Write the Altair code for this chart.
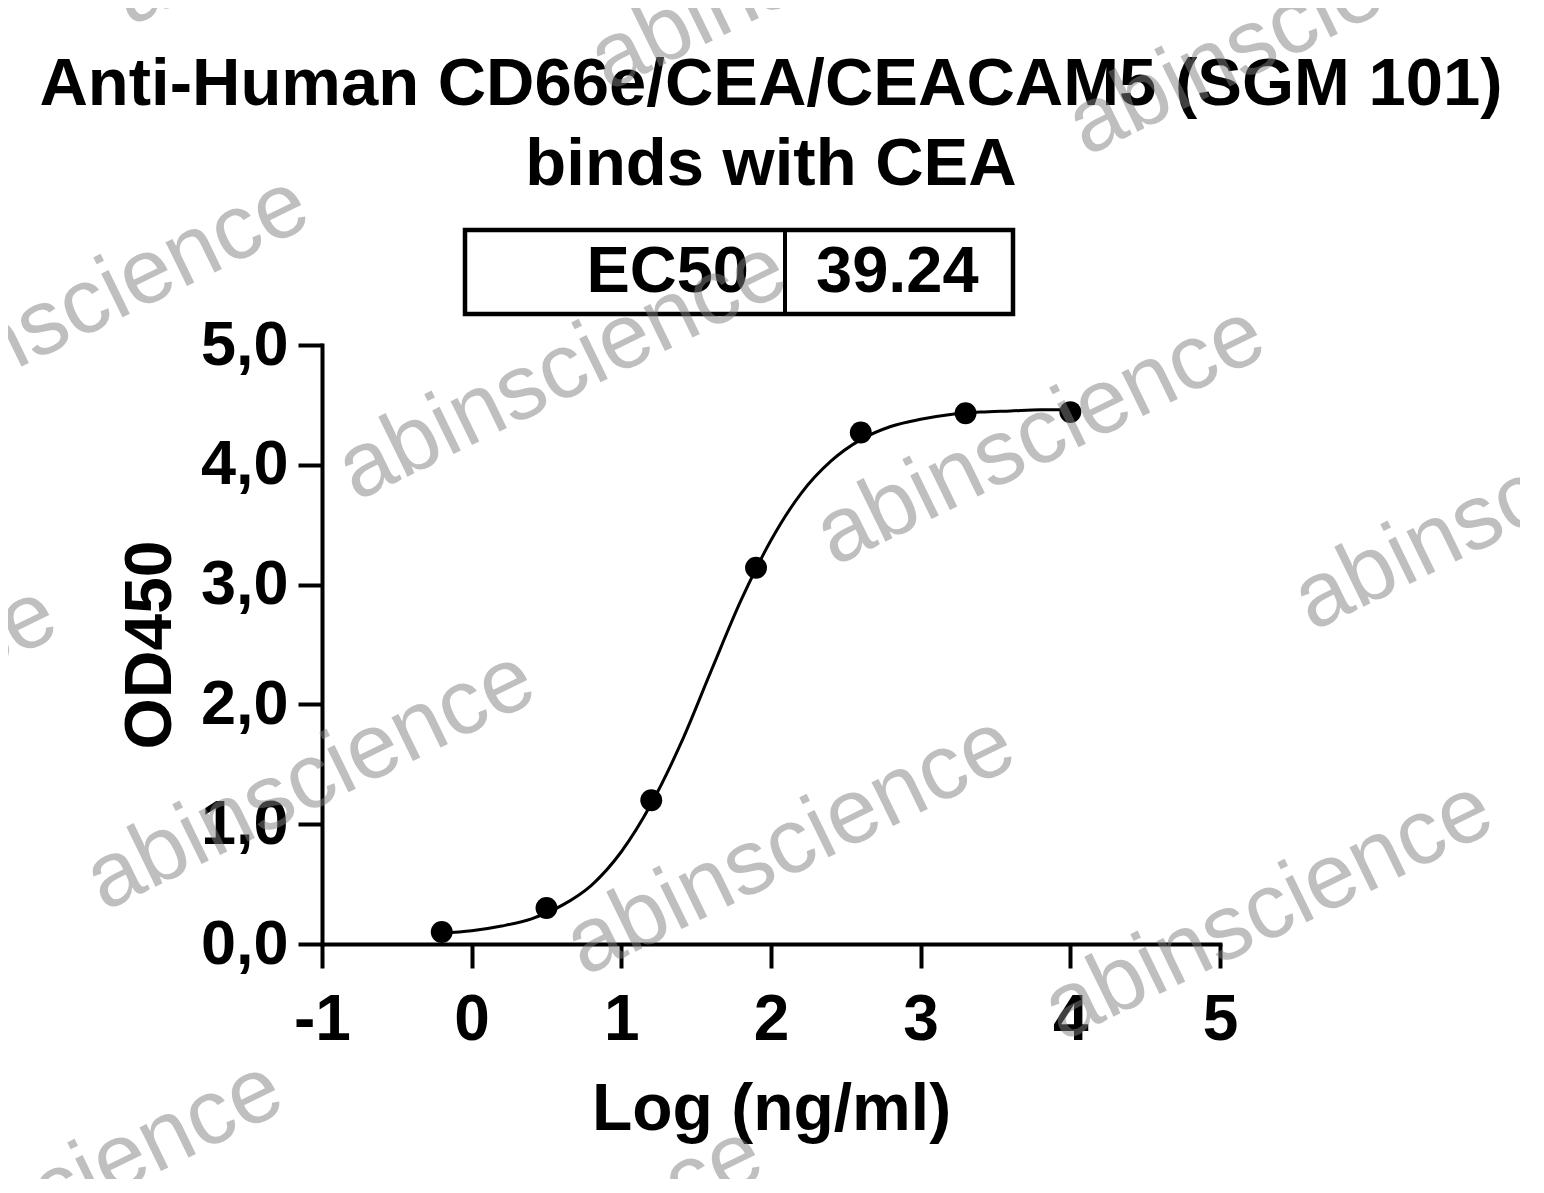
import altair as alt
import pandas as pd

# measured data points (log concentration, OD450)
conc_log = [-0.2, 0.5, 1.2, 1.9, 2.6, 3.3, 4.0]
od450 = [0.10, 0.30, 1.20, 3.14, 4.27, 4.43, 4.44]

# fitted curve
curve_x = [-0.2, 0.0, 0.2, 0.4, 0.6, 0.8, 1.0, 1.2, 1.4, 1.6, 1.8, 2.0, 2.2,
           2.4, 2.6, 2.8, 3.0, 3.2, 3.4, 3.6, 3.8, 4.0]
curve_y = [0.09, 0.11, 0.15, 0.21, 0.32, 0.49, 0.77, 1.17, 1.68, 2.28, 2.87,
           3.37, 3.76, 4.03, 4.21, 4.32, 4.38, 4.42, 4.44, 4.45, 4.46, 4.46]

x_ticks = [-1, 0, 1, 2, 3, 4, 5]
y_ticks = [0, 1, 2, 3, 4, 5]

title_line1 = "Anti-Human CD66e/CEA/CEACAM5 (SGM 101)"
title_line2 = "binds with CEA"
ec50_label = "EC50"
ec50_value = "39.24"
watermark = "abinscience"

# watermark placement (pixels relative to plot area)
wm_px = [-12, 240, 718, 468, 946, 1196, 492, 970, -264, 216, -490, -238, 14, 1424, 1448]
wm_py = [435, 25, 90, 500, 565, 155, -385, -320, 845, 910, 370, -40, -450, 630, -255]

FONT = "Liberation Sans"

pts = pd.DataFrame({"x": conc_log, "y": od450})
crv = pd.DataFrame({"x": curve_x, "y": curve_y})
wm = pd.DataFrame({"px": wm_px, "py": wm_py, "t": [watermark] * len(wm_px)})
one = pd.DataFrame({"k": [0]})

xscale = alt.Scale(domain=[-1, 5], nice=False, zero=False)
yscale = alt.Scale(domain=[0, 5], nice=False, zero=False)

xaxis = alt.Axis(values=x_ticks, title="Log (ng/ml)",
                 labelExpr="'' + datum.value", labelFlush=False,
                 tickSize=24, labelPadding=20, labelFontSize=64,
                 titleFontSize=66, titlePadding=25)
yaxis = alt.Axis(values=y_ticks, title="OD450",
                 labelExpr="replace(format(datum.value, '.1f'), '.', ',')",
                 labelFlush=False,
                 tickSize=24, labelPadding=10, labelFontSize=63,
                 titleFontSize=66, titlePadding=16)

line = alt.Chart(crv).mark_line(color="black", strokeWidth=3,
                                interpolate="monotone").encode(
    x=alt.X("x:Q", scale=xscale, axis=xaxis),
    y=alt.Y("y:Q", scale=yscale, axis=yaxis),
)

points = alt.Chart(pts).mark_point(filled=True, color="black", size=480,
                                   opacity=1, shape="circle").encode(
    x=alt.X("x:Q", scale=xscale),
    y=alt.Y("y:Q", scale=yscale),
)

box = alt.Chart(one).mark_rect(fill="white", stroke="black",
                               strokeWidth=4.5).encode(
    x=alt.value(143), x2=alt.value(691), y=alt.value(-115), y2=alt.value(-31)
)
divider = alt.Chart(one).mark_rule(color="black", strokeWidth=4).encode(
    x=alt.value(463), y=alt.value(-115), y2=alt.value(-31)
)


def text_layer(txt, x, y, align, size):
    return alt.Chart(one).mark_text(text=txt, font=FONT, fontWeight="bold",
                                    fontSize=size, align=align,
                                    baseline="alphabetic",
                                    color="black").encode(
        x=alt.value(x), y=alt.value(y)
    )


lab1 = text_layer(ec50_label, 427, -53, "right", 65)
lab2 = text_layer(ec50_value, 494, -53, "left", 65)
t1 = text_layer(title_line1, 449, -240, "center", 67)
t2 = text_layer(title_line2, 449, -160, "center", 67)

main = alt.layer(line, points, box, divider, lab1, lab2, t1, t2)

wm_layer = alt.Chart(wm).mark_text(font=FONT, fontSize=92, angle=334,
                                   color="#808080", opacity=0.5,
                                   align="center", baseline="middle").encode(
    x=alt.X("px:Q", scale=None, axis=None),
    y=alt.Y("py:Q", scale=None, axis=None),
    text="t:N",
)

chart = alt.layer(main, wm_layer).resolve_scale(
    x="independent", y="independent"
).properties(
    width=898,
    height=599,
    background="white",
    autosize=alt.AutoSizeParams(type="none"),
    padding={"left": 314, "top": 337, "right": 300, "bottom": 235},
).configure_view(stroke=None).configure_axis(
    grid=False, domainColor="black", domainWidth=4, domainCap="square",
    tickColor="black", tickWidth=4, labelColor="black", titleColor="black",
    labelFont=FONT, titleFont=FONT, labelFontWeight="bold",
    titleFontWeight="bold",
)

chart.save("out.html", embed_options={"renderer": "svg", "actions": False})
